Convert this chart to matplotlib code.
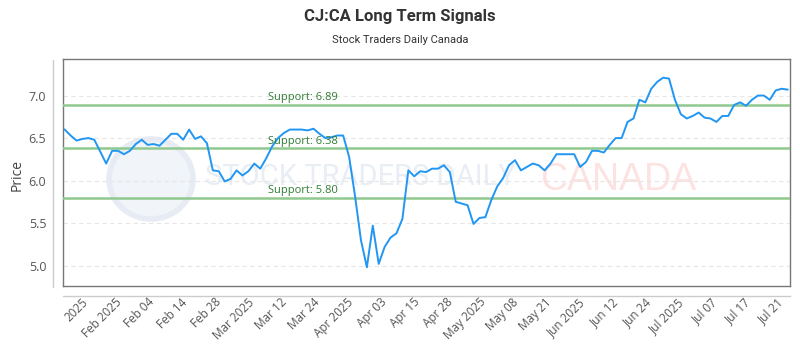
import numpy as np
import matplotlib.pyplot as plt
from matplotlib.patches import Ellipse
from matplotlib.lines import Line2D

prices = [6.60, 6.53, 6.47, 6.49, 6.50, 6.48, 6.34, 6.20, 6.35, 6.35,
          6.31, 6.35, 6.43, 6.48, 6.42, 6.43, 6.41, 6.48, 6.55, 6.55,
          6.48, 6.60, 6.49, 6.52, 6.44, 6.12, 6.11, 5.99, 6.02, 6.12,
          6.06, 6.11, 6.20, 6.14, 6.26, 6.40, 6.50, 6.56, 6.60, 6.60,
          6.60, 6.59, 6.61, 6.55, 6.50, 6.51, 6.53, 6.53, 6.28, 5.82,
          5.30, 4.98, 5.47, 5.02, 5.22, 5.33, 5.38, 5.55, 6.12, 6.05,
          6.11, 6.10, 6.14, 6.14, 6.18, 6.10, 5.75, 5.73, 5.71, 5.49,
          5.56, 5.57, 5.77, 5.93, 6.03, 6.18, 6.24, 6.12, 6.16, 6.20,
          6.18, 6.12, 6.20, 6.31, 6.31, 6.31, 6.31, 6.16, 6.22, 6.35,
          6.35, 6.33, 6.42, 6.50, 6.50, 6.69, 6.73, 6.95, 6.92, 7.08,
          7.16, 7.21, 7.20, 6.95, 6.78, 6.73, 6.76, 6.80, 6.74, 6.73,
          6.69, 6.76, 6.76, 6.89, 6.92, 6.88, 6.95, 7.00, 7.00, 6.95,
          7.06, 7.08, 7.07]

tick_labels = ["2025", "Feb 2025", "Feb 04", "Feb 14", "Feb 28", "Mar 2025",
               "Mar 12", "Mar 24", "Apr 2025", "Apr 03", "Apr 15", "Apr 28",
               "May 2025", "May 08", "May 21", "Jun 2025", "Jun 12", "Jun 24",
               "Jul 2025", "Jul 07", "Jul 17", "Jul 21"]

support_levels = [6.89, 6.38, 5.80]
y_ticks = [5.0, 5.5, 6.0, 6.5, 7.0]

W, H = 800, 350
fig = plt.figure(figsize=(8, 3.5), dpi=100)
ax = fig.add_axes([63 / W, 1 - 286 / H, 727 / W, 227 / H])

# watermark
ax.add_patch(Ellipse((151 / W, 1 - 179 / H), 84 / W, 80 / H, transform=fig.transFigure,
                     facecolor='#f1f4f9', edgecolor='#e7ecf4', lw=4, zorder=0))
ax.text(205 / W, 1 - 177 / H, "STOCK TRADERS DAILY", transform=fig.transFigure,
        family=['Roboto', 'DejaVu Sans'], fontsize=21,
        color='#e9edf4', va='center', ha='left', zorder=0)
ax.text(540 / W, 1 - 180 / H, "CANADA", transform=fig.transFigure,
        family=['Liberation Sans', 'DejaVu Sans'], fontsize=27,
        color='#fde2e2', va='center', ha='left', zorder=0)

x = np.arange(len(prices))
ax.plot(x, prices, color='#2196f3', lw=1.4, zorder=4)

for lvl in support_levels:
    ax.axhline(lvl, color='#8fc98f', lw=1.8, zorder=3)
    ax.text(34.3, lvl + 0.02, f"Support: {lvl:.2f}", color='#2e7d32',
            fontsize=8, family=['Open Sans', 'DejaVu Sans'], va='bottom', zorder=5)

ax.set_xlim(-0.29, 122.42)
ax.set_ylim(4.76, 7.43)
ax.set_yticks(y_ticks)
ax.set_yticklabels([f"{v:.1f}" for v in y_ticks])
ax.yaxis.grid(True, color='#e6e6e6', lw=0.8, ls=(0, (4, 3)), zorder=1)
ax.set_axisbelow(True)

ax.set_xticks(np.linspace(2.85, 120.25, len(tick_labels)))
ax.set_xticklabels(tick_labels, rotation=45, ha='right', rotation_mode='anchor')
ax.tick_params(axis='both', length=0, colors='#555555')
ax.tick_params(axis='y', pad=12, labelsize=9)
ax.tick_params(axis='x', pad=7, labelsize=8.5)
for lab in ax.get_xticklabels() + ax.get_yticklabels():
    lab.set_family(['Open Sans', 'DejaVu Sans'])

for s in ax.spines.values():
    s.set_color('#777777')
    s.set_linewidth(1)

# offset axis lines
fig.add_artist(Line2D([53 / W, 53 / W], [1 - 287 / H, 1 - 60 / H], color='#cccccc', lw=1))
fig.add_artist(Line2D([63 / W, 790 / W], [1 - 296 / H, 1 - 296 / H], color='#cccccc', lw=1))

fig.text(17 / W, 1 - 175 / H, "Price", rotation=90, ha='center', va='center',
         fontsize=10, color='#444444', family=['Open Sans', 'DejaVu Sans'])
fig.text(0.5, 1 - 16 / H, "CJ:CA Long Term Signals", ha='center', va='center',
         fontsize=12, fontweight='bold', color='#333333',
         family=['Roboto', 'DejaVu Sans'])
fig.text(0.5, 1 - 40 / H, "Stock Traders Daily Canada", ha='center', va='center',
         fontsize=8, color='#333333', family=['Roboto', 'DejaVu Sans'])

fig.savefig('out.png', dpi=100)
